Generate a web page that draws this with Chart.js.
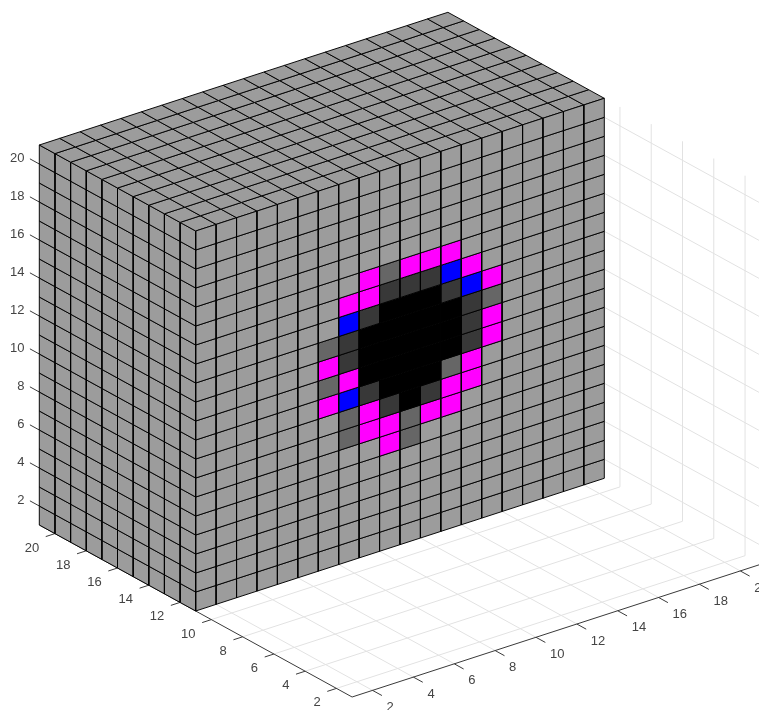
<!DOCTYPE html>
<html>
<head>
<meta charset="utf-8">
<style>html,body{margin:0;padding:0;background:#fff}canvas{display:block;filter:blur(0.45px)}</style>
<script src="https://cdn.jsdelivr.net/npm/chart.js@4"></script>
</head>
<body>
<canvas id="c" width="759" height="710"></canvas>
<script>
// Tick values shown on the three axes
const aTicks = [2,4,6,8,10,12,14,16,18,20];
const bTicks = [2,4,6,8,10,12,14,16,18,20];
const zTicks = [2,4,6,8,10,12,14,16,18,20];

// Voxel block extents, in axis units
const aRange = [11,21];
const bRange = [1,21];
const zRange = [1,21];
const axisMin = 1, axisMax = 21;

// Cells on the A=11 face, as [B, Z] of each cell's low corner
const magentaCells = [[7,11],[7,9],[8,14],[8,10],[9,15],[9,14],[9,8],[9,7],[10,7],[10,6],
  [11,15],[12,15],[12,7],[13,15],[13,8],[13,7],[14,14],[14,9],[14,8],[15,13],[15,11],[15,10]];
const blueCells = [[8,13],[8,9],[13,14],[14,13]];
const midGrayCells = [[7,12],[7,10],[8,8],[8,7],[10,15],[11,7],[11,6],[13,9],[15,12]];
const darkCells = [[8,12],[8,11],[9,13],[9,9],[10,14],[10,8],[11,14],[12,14],[12,8],[13,13],
  [14,12],[14,11],[14,10]];
const blackCells = [[9,10],[9,11],[9,12],[10,9],[10,10],[10,11],[10,12],[10,13],
  [11,8],[11,9],[11,10],[11,11],[11,12],[11,13],[12,9],[12,10],[12,11],[12,12],[12,13],
  [13,10],[13,11],[13,12]];

const COLORS = {base:'#9c9c9c', magenta:'#ff00ff', blue:'#0000ff', mid:'#666666', dark:'#383838', black:'#000000'};

// Oblique projection of the 3D axes onto the page plane
function proj(a,b,z){
  return {
    x: 195.7 + (11-a)*15.64 + (b-1)*20.43,
    y: 611 + (11-a)*8.6 - (b-1)*6.635 - (z-1)*19
  };
}

const fills = new Map();
[[magentaCells,COLORS.magenta],[blueCells,COLORS.blue],[midGrayCells,COLORS.mid],
 [darkCells,COLORS.dark],[blackCells,COLORS.black]].forEach(([list,col])=>{
  list.forEach(([b,z])=>fills.set(b+','+z,col));
});

function polygon(corners,color){
  const pts = corners.map(c=>proj(c[0],c[1],c[2]));
  pts.push(pts[0]);
  return {data:pts, showLine:true, fill:'shape', backgroundColor:color, borderColor:'#000000',
          borderWidth:0.95, pointRadius:0, tension:0, borderJoinStyle:'miter'};
}
function line(from,to,color,width){
  return {data:[proj(...from),proj(...to)], showLine:true, fill:false, borderColor:color,
          borderWidth:width, pointRadius:0, tension:0};
}

const drawList = [];
const GRID = '#e2e2e2', AXIS = '#3a3a3a';
// floor and back wall grid
aTicks.forEach(a=>{
  drawList.push(line([a,axisMin,axisMin],[a,axisMax,axisMin],GRID,1));
  drawList.push(line([a,axisMax,axisMin],[a,axisMax,axisMax],GRID,1));
});
bTicks.forEach(b=>drawList.push(line([axisMin,b,axisMin],[axisMax,b,axisMin],GRID,1)));
zTicks.forEach(z=>drawList.push(line([axisMin,axisMax,z],[axisMax,axisMax,z],GRID,1)));
// axes and ticks
drawList.push(line([axisMax,axisMin,axisMin],[axisMin,axisMin,axisMin],AXIS,1));
drawList.push(line([axisMin,axisMin,axisMin],[axisMin,axisMax+1,axisMin],AXIS,1));
aTicks.forEach(a=>drawList.push(line([a,axisMin,axisMin],[a,axisMin-0.45,axisMin],AXIS,1)));
bTicks.forEach(b=>drawList.push(line([axisMin,b,axisMin],[axisMin-0.6,b,axisMin],AXIS,1)));
zTicks.forEach(z=>drawList.push(line([axisMax,axisMin,z],[axisMax+0.6,axisMin,z],AXIS,1)));
// left face
for(let a=aRange[0];a<aRange[1];a++)for(let z=zRange[0];z<zRange[1];z++)
  drawList.push(polygon([[a,1,z],[a+1,1,z],[a+1,1,z+1],[a,1,z+1]],COLORS.base));
// top face
for(let a=aRange[0];a<aRange[1];a++)for(let b=bRange[0];b<bRange[1];b++)
  drawList.push(polygon([[a,b,21],[a+1,b,21],[a+1,b+1,21],[a,b+1,21]],COLORS.base));
// right face
for(let b=bRange[0];b<bRange[1];b++)for(let z=zRange[0];z<zRange[1];z++)
  drawList.push(polygon([[11,b,z],[11,b+1,z],[11,b+1,z+1],[11,b,z+1]],fills.get(b+','+z)||COLORS.base));

const tickLabels = {
  id:'tickLabels',
  afterDraw(chart){
    const {ctx,scales:{x,y}} = chart;
    ctx.save();
    ctx.font = '13px "Liberation Sans", Arial, sans-serif';
    ctx.fillStyle = '#444444';
    ctx.textBaseline = 'middle';
    const put=(p,dx,dy,t,al)=>{ctx.textAlign=al;ctx.fillText(String(t),x.getPixelForValue(p.x)+dx,y.getPixelForValue(p.y)+dy);};
    zTicks.forEach(z=>put(proj(21,1,z),-14.8,-5.5,z,'right'));
    aTicks.forEach(a=>put(proj(a,1,1),-15.8,14.5,a,'right'));
    bTicks.forEach(b=>put(proj(1,b,1),14,17,b,'left'));
    ctx.restore();
  }
};

new Chart(document.getElementById('c'),{
  type:'scatter',
  data:{datasets:drawList.slice().reverse()},
  plugins:[tickLabels],
  options:{
    responsive:false, animation:false, events:[],
    layout:{padding:0},
    plugins:{legend:{display:false},tooltip:{enabled:false},title:{display:false}},
    scales:{
      x:{type:'linear',min:0,max:759,display:false},
      y:{type:'linear',min:0,max:710,reverse:true,display:false}
    }
  }
});
</script>
</body>
</html>
